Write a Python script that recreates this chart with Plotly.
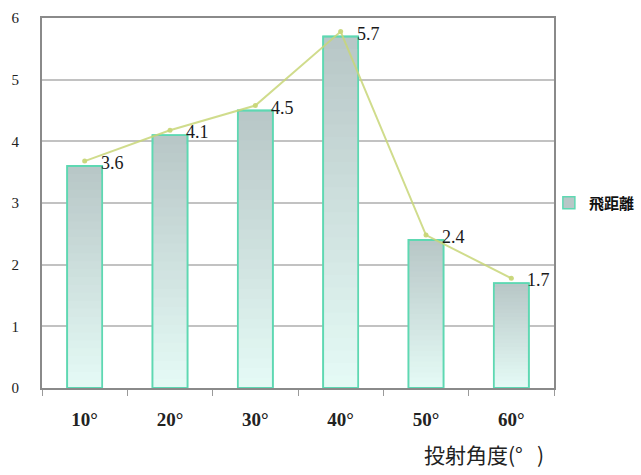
import plotly.graph_objects as go

categories = ["10°", "20°", "30°", "40°", "50°", "60°"]
distance = [3.6, 4.1, 4.5, 5.7, 2.4, 1.7]
trend_values = [3.68, 4.18, 4.58, 5.78, 2.48, 1.78]
y_ticks = [0, 1, 2, 3, 4, 5, 6]
series_name = "<b>飛距離</b>"
x_title = "投射角度(°   )"

SERIF = "'Liberation Serif', 'Times New Roman', 'DejaVu Serif', serif"
CJK = "'Noto Sans CJK JP', 'Noto Sans CJK TC', sans-serif"

top_rgb = (184, 199, 199)
bottom_rgb = (230, 252, 247)
N = 28

fig = go.Figure()

for k in range(N):
    f = 1 - k / N
    c = tuple(int(round(bottom_rgb[i] + (top_rgb[i] - bottom_rgb[i]) * f)) for i in range(3))
    fig.add_trace(go.Bar(
        x=categories, y=[v * f for v in distance],
        marker=dict(color="rgb(%d,%d,%d)" % c,
                    line=dict(color="#5ed8b2", width=1.5) if k == 0 else dict(width=0)),
        name=series_name, showlegend=(k == 0), hoverinfo="skip",
    ))

fig.add_trace(go.Bar(
    x=categories, y=distance,
    marker=dict(color="rgba(0,0,0,0)", line=dict(color="#5ed8b2", width=1.8)),
    showlegend=False, name=series_name,
))

fig.add_trace(go.Scatter(
    x=categories, y=trend_values, mode="lines+markers",
    line=dict(color="rgba(200,214,120,0.85)", width=2),
    marker=dict(size=5, color="rgba(200,214,120,0.95)"),
    showlegend=False,
))

for c, v in zip(categories, distance):
    fig.add_annotation(x=c, y=v, text=str(v), showarrow=False,
                       xanchor="left", yanchor="middle", xshift=14, yshift=3,
                       font=dict(family=SERIF, size=18, color="#1a1a1a"))

fig.add_annotation(xref="paper", yref="paper", x=0.863, y=-0.178, text=x_title,
                   showarrow=False, xanchor="center", yanchor="middle",
                   font=dict(family=CJK, size=21, color="#222"))

fig.update_layout(
    width=641, height=475,
    margin=dict(l=42, r=87, t=18, b=87, autoexpand=False),
    paper_bgcolor="white", plot_bgcolor="white",
    barmode="overlay", bargap=0.59,
    legend=dict(x=0.99, y=0.5, xanchor="left", yanchor="middle",
                bgcolor="rgba(0,0,0,0)",
                font=dict(family=CJK, size=15, color="#111"),
                itemwidth=30),
    font=dict(family=SERIF),
)

fig.update_xaxes(
    type="category", showline=True, linecolor="#8a8a8a", linewidth=2, mirror=True,
    ticks="outside", tickson="boundaries", ticklen=6, tickcolor="#9a9a9a",
    tickfont=dict(family=SERIF, size=19, color="#222", weight="bold"),
    ticklabelstandoff=13, showgrid=False,
)
fig.update_yaxes(
    range=[0, 6], tickvals=y_ticks, showline=True, linecolor="#8a8a8a", linewidth=2, mirror=True,
    showgrid=True, gridcolor="#c2c2c2", gridwidth=1.5, ticks="",
    tickfont=dict(family=SERIF, size=15, color="#222"),
    ticklabelstandoff=18, zeroline=False,
)

fig.write_html("out.html")
